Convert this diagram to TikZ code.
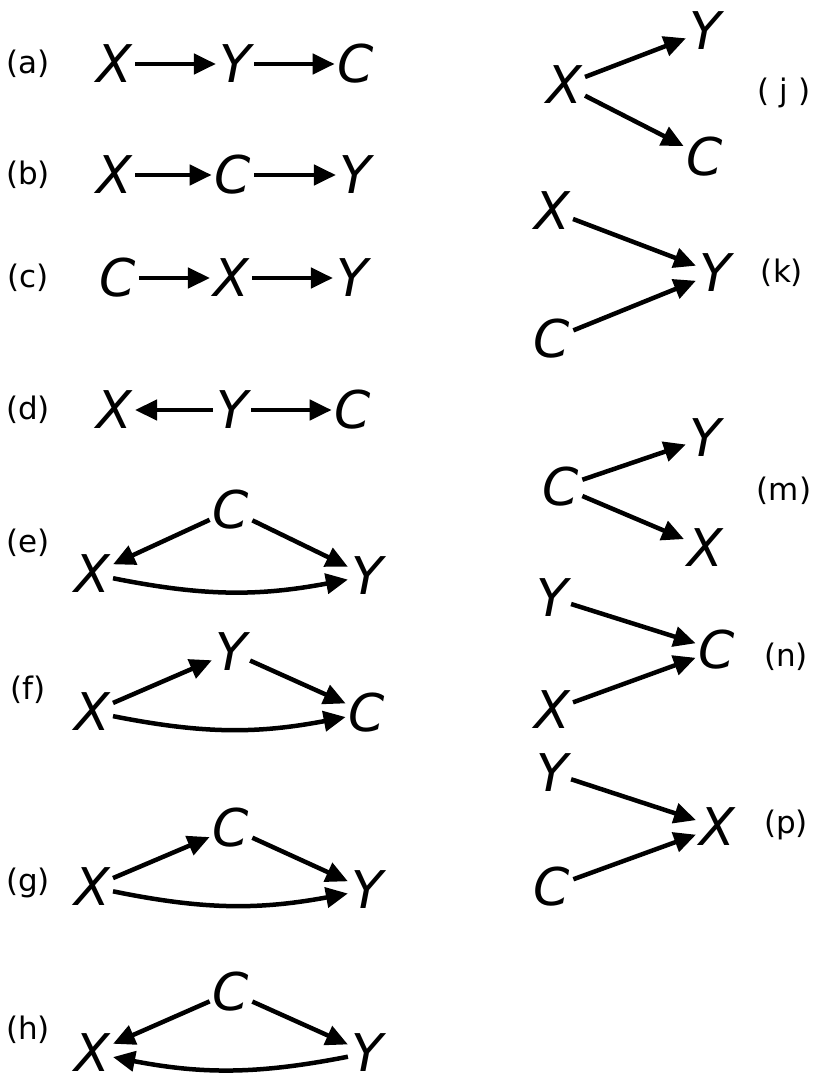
\documentclass[tikz,border=0pt]{standalone}
\usepackage{fontspec}
\setmainfont{DejaVu Sans}[ItalicFont={DejaVu Sans Oblique}]
\usetikzlibrary{arrows.meta, positioning}
\tikzstyle{var} = [inner sep=3pt, font=\fontsize{52}{60}\selectfont\itshape]
\tikzstyle{tag} = [inner sep=0pt, font=\fontsize{31}{36}\selectfont]
\tikzstyle{arrow} = [line width=4.5pt, -{Triangle[length=22pt,width=20pt]}]

\begin{document}
\begin{tikzpicture}[x=1pt, y=-1pt]
\useasboundingbox (0,0) rectangle (812,1083);

% Chains
\node (la) [tag] at (28,64) {(a)};
\node (aX) [var] at (114,64) {X};
\node (aY) [var] at (235,64) {Y};
\node (aC) [var] at (356,64) {C};
\draw [arrow] (aX) -- (aY);
\draw [arrow] (aY) -- (aC);

\node (lb) [tag] at (28,175) {(b)};
\node (bX) [var] at (114,175) {X};
\node (bC) [var] at (233,175) {C};
\node (bY) [var] at (355,175) {Y};
\draw [arrow] (bX) -- (bC);
\draw [arrow] (bC) -- (bY);

\node (lc) [tag] at (28,278) {(c)};
\node (cC) [var] at (118,278) {C};
\node (cX) [var] at (231,278) {X};
\node (cY) [var] at (352,278) {Y};
\draw [arrow] (cC) -- (cX);
\draw [arrow] (cX) -- (cY);

\node (ld) [tag] at (28,410) {(d)};
\node (dX) [var] at (114,410) {X};
\node (dY) [var] at (232,410) {Y};
\node (dC) [var] at (353,410) {C};
\draw [arrow] (dY) -- (dX);
\draw [arrow] (dY) -- (dC);

% Triangles
\node (le) [tag] at (28,543) {(e)};
\node (eC) [var] at (231,510) {C};
\node (eX) [var] at (92,574) {X};
\node (eY) [var] at (367,576) {Y};
\draw [arrow] (eC) -- (eX);
\draw [arrow] (eC) -- (eY);
\draw [arrow] (eX) to[bend right=11] (eY);

\node (lf) [tag] at (28,690) {(f)};
\node (fY) [var] at (231,652) {Y};
\node (fX) [var] at (92,712) {X};
\node (fC) [var] at (367,713) {C};
\draw [arrow] (fX) -- (fY);
\draw [arrow] (fY) -- (fC);
\draw [arrow] (fX) to[bend right=11] (fC);

\node (lg) [tag] at (28,883) {(g)};
\node (gC) [var] at (231,828) {C};
\node (gX) [var] at (92,887) {X};
\node (gY) [var] at (367,890) {Y};
\draw [arrow] (gX) -- (gC);
\draw [arrow] (gC) -- (gY);
\draw [arrow] (gX) to[bend right=11] (gY);

\node (lh) [tag] at (28,1030) {(h)};
\node (hC) [var] at (231,992) {C};
\node (hX) [var] at (92,1053) {X};
\node (hY) [var] at (367,1053) {Y};
\draw [arrow] (hC) -- (hX);
\draw [arrow] (hC) -- (hY);
\draw [arrow] (hY) to[bend left=11] (hX);

% Forks and colliders
\node (lj) [tag] at (784,93) {( j )};
\node (jX) [var] at (564,85) {X};
\node (jY) [var] at (705,31) {Y};
\node (jC) [var] at (705,157) {C};
\draw [arrow] (jX) -- (jY);
\draw [arrow] (jX) -- (jC);

\node (lk) [tag] at (782,273) {(k)};
\node (kX) [var] at (552,211) {X};
\node (kY) [var] at (715,273) {Y};
\node (kC) [var] at (552,339) {C};
\draw [arrow] (kX) -- (kY);
\draw [arrow] (kC) -- (kY);

\node (lm) [tag] at (784,491) {(m)};
\node (mC) [var] at (561,487) {C};
\node (mY) [var] at (705,438) {Y};
\node (mX) [var] at (705,548) {X};
\draw [arrow] (mC) -- (mY);
\draw [arrow] (mC) -- (mX);

\node (ln) [tag] at (786,657) {(n)};
\node (nY) [var] at (552,598) {Y};
\node (nC) [var] at (717,650) {C};
\node (nX) [var] at (552,710) {X};
\draw [arrow] (nY) -- (nC);
\draw [arrow] (nX) -- (nC);

\node (lp) [tag] at (786,825) {(p)};
\node (pY) [var] at (552,773) {Y};
\node (pX) [var] at (717,827) {X};
\node (pC) [var] at (552,887) {C};
\draw [arrow] (pY) -- (pX);
\draw [arrow] (pC) -- (pX);

\end{tikzpicture}
\end{document}
